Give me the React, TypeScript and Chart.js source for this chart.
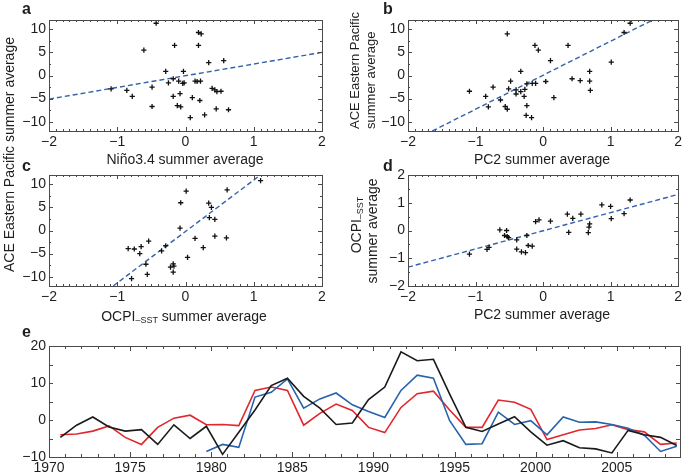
import React, { useEffect, useRef } from "react";
import { Chart, registerables } from "chart.js";

Chart.register(...registerables);

const FONT = "'Liberation Sans', Arial, Helvetica, sans-serif";
const W = 685;
const H = 475;
const YW = 44;
const XH = 20;

// ---------- panel a: Niño3.4 vs ACE ----------
const aNino = [-0.43, 0.19, 0.23, -0.16, 0.19, -0.61, 0.56, 0.34, -0.29, -0.03, -0.18, -0.25, -0.1, -0.04, -0.02, 0.14, 0.17, 0.22, -1.09, -0.86, -0.78, -0.49, 0.39, 0.43, 0.46, 0.52, -0.18, -0.08, 0.1, 0.21, -0.49, -0.12, -0.07, 0.45, 0.63, 0.07, 0.28];
const aAce = [11.3, 9.3, 9.0, 6.5, 6.5, 5.5, 3.2, 2.8, 0.9, 0.9, -0.7, -1.6, -1.2, -1.7, -1.6, -1.2, -1.3, -1.2, -2.9, -3.2, -4.5, -2.5, -2.8, -3.1, -3.5, -3.4, -4.5, -3.9, -4.8, -5.4, -6.7, -6.5, -6.8, -7.2, -7.4, -9.1, -8.5];
const aFitX = [-2, 2];
const aFitY = [-5.1, 5.0];

// ---------- panel b: PC2 vs ACE ----------
const bPc2 = [1.29, 1.2, -0.53, -0.12, -0.07, 0.37, 0.11, 1.01, -0.33, 0.69, -0.48, 0.43, 0.55, 0.69, -0.24, -0.16, -0.11, 0.04, -1.09, -0.74, -0.51, -0.4, -0.33, -0.27, -0.4, 0.7, -0.85, -0.28, 0.16, -0.63, -0.81, -0.56, -0.53, -0.24, -0.25, -0.17];
const bAce = [11.3, 9.3, 9.0, 6.5, 5.5, 6.5, 3.2, 2.9, 0.9, 0.9, -1.2, -0.7, -1.1, -1.2, -1.8, -1.7, -1.7, -1.3, -3.4, -2.5, -2.9, -3.1, -3.5, -3.0, -4.0, -3.2, -4.5, -4.5, -4.8, -5.3, -6.8, -6.7, -7.3, -6.5, -8.6, -9.1];
const bFitX = [-1.64, 1.61];
const bFitY = [-12, 11.9];

// ---------- panel c: OCPI_SST vs ACE ----------
const cOcpi = [1.1, 0.01, 0.61, -0.07, 0.34, 0.38, 0.35, 0.43, -0.08, 0.14, 0.43, 0.6, -0.54, -0.84, -0.75, -0.65, -0.67, -0.29, -0.35, 0.26, 0.03, -0.58, -0.18, -0.17, -0.22, -0.18, -0.56, -0.79];
const cAce = [10.8, 8.5, 8.8, 6.0, 5.9, 5.0, 2.8, 2.4, 0.5, -1.7, -1.2, -1.6, -2.3, -3.9, -4.0, -3.5, -5.0, -3.3, -4.4, -3.7, -5.8, -7.3, -7.2, -7.7, -7.9, -9.0, -9.5, -10.4];
const cFitX = [-1.06, 1.08];
const cFitY = [-12, 11.8];

// ---------- panel d: PC2 vs OCPI_SST ----------
const dPc2 = [1.29, 0.87, 1.0, 1.2, 1.01, 0.36, 0.56, 0.44, -0.11, -0.06, 0.11, 0.69, 0.68, 0.67, 0.38, -0.64, -0.54, -0.57, -0.53, -0.51, -0.24, -0.39, -1.09, -0.83, -0.8, -0.39, -0.32, -0.26, -0.22, -0.16];
const dOcpi = [1.1, 0.92, 0.87, 0.61, 0.43, 0.59, 0.59, 0.44, 0.32, 0.38, 0.34, 0.24, 0.12, -0.08, -0.07, 0.02, 0.0, -0.18, -0.22, -0.26, -0.18, -0.34, -0.85, -0.68, -0.61, -0.67, -0.77, -0.8, -0.54, -0.56];
const dFitX = [-2, 2];
const dFitY = [-1.32, 1.3];

// ---------- panel e: time series (summer mid-points) ----------
const eYears = [1970.7, 1971.7, 1972.7, 1973.7, 1974.7, 1975.7, 1976.7, 1977.7, 1978.7, 1979.7, 1980.7, 1981.7, 1982.7, 1983.7, 1984.7, 1985.7, 1986.7, 1987.7, 1988.7, 1989.7, 1990.7, 1991.7, 1992.7, 1993.7, 1994.7, 1995.7, 1996.7, 1997.7, 1998.7, 1999.7, 2000.7, 2001.7, 2002.7, 2003.7, 2004.7, 2005.7, 2006.7, 2007.7, 2008.7];
const eBlack = [-4.7, -1.4, 0.8, -1.9, -3.0, -2.6, -6.6, -1.3, -5.0, -1.7, -9.3, -3.3, 2.7, 9.3, 11.3, 6.4, 3.2, -1.2, -0.8, 5.5, 8.9, 18.4, 16.0, 16.4, 7.0, -2.0, -3.1, -1.1, 0.9, -3.2, -6.8, -5.6, -7.5, -7.8, -8.9, -2.8, -4.0, -4.7, -6.9];
const eBlue: (number | null)[] = [null, null, null, null, null, null, null, null, null, -8.5, -6.6, -7.4, 6.2, 7.5, 11.1, 3.2, 5.7, 7.3, 4.1, 2.3, 0.7, 8.0, 12.1, 11.3, -0.2, -6.6, -6.4, 2.1, -1.2, -0.2, -4.0, 0.8, -0.6, -0.5, -1.2, -2.2, -4.1, -8.5, -7.1];
const eRed = [-4.0, -3.8, -3.0, -1.6, -4.7, -6.6, -2.0, 0.5, 1.3, -1.3, -1.2, -1.5, 8.0, 8.9, 8.0, -1.4, 1.8, 4.3, 2.6, -2.0, -3.4, 3.4, 7.1, 7.8, 2.7, -2.0, -2.0, 5.4, 4.8, 2.9, -5.3, -4.0, -2.7, -2.3, -1.3, -2.6, -3.2, -6.6, -6.2];

// ---------- helpers ----------
type Run = { t: string; sub?: boolean };
type Label = { runs: Run[]; x: number; y: number; size?: number; bold?: boolean; rotate?: boolean; align?: "left" | "center" };
type Area = { left: number; top: number; right: number; bottom: number };
type TickSpec = { xMajor: number; xMinor: number; yMajor: number; yMinor: number; xMajLen: number; xMinLen: number; yMajLen: number; yMinLen: number };

const fmt = (v: any) => String(v).replace("-", "\u2212");

function textPlugin(items: Label[]) {
  return {
    id: "texts",
    afterDraw(chart: any) {
      const ctx = chart.ctx as CanvasRenderingContext2D;
      for (const it of items) {
        const size = it.size ?? 14;
        const subSize = 9;
        const fontOf = (r: Run) => `${it.bold ? "bold " : ""}${r.sub ? subSize : size}px ${FONT}`;
        ctx.save();
        ctx.fillStyle = "#1e1e1e";
        ctx.textBaseline = "alphabetic";
        ctx.textAlign = "left";
        ctx.translate(it.x, it.y);
        if (it.rotate) ctx.rotate(-Math.PI / 2);
        let total = 0;
        for (const r of it.runs) {
          ctx.font = fontOf(r);
          total += ctx.measureText(r.t).width;
        }
        let cx = it.align === "center" ? -total / 2 : 0;
        for (const r of it.runs) {
          ctx.font = fontOf(r);
          ctx.fillText(r.t, cx, r.sub ? 2 : 0);
          cx += ctx.measureText(r.t).width;
        }
        ctx.restore();
      }
    },
  };
}

function framePlugin(s: TickSpec) {
  return {
    id: "frame",
    afterDatasetsDraw(chart: any) {
      const ctx = chart.ctx as CanvasRenderingContext2D;
      const { left, right, top, bottom } = chart.chartArea;
      const xs = chart.scales.x;
      const ys = chart.scales.y;
      const each = (min: number, max: number, step: number, fn: (v: number) => void) => {
        for (let n = Math.ceil(min / step - 1e-6); n * step <= max + 1e-6; n++) fn(n * step);
      };
      const isMajor = (v: number, m: number) => Math.abs(v / m - Math.round(v / m)) < 1e-6;
      ctx.save();
      ctx.strokeStyle = "#4a4a4a";
      ctx.lineWidth = 1;
      ctx.beginPath();
      each(xs.min, xs.max, s.xMinor, (v) => {
        const len = isMajor(v, s.xMajor) ? s.xMajLen : s.xMinLen;
        const px = Math.round(xs.getPixelForValue(v)) + 0.5;
        ctx.moveTo(px, bottom);
        ctx.lineTo(px, bottom - len);
        ctx.moveTo(px, top);
        ctx.lineTo(px, top + len);
      });
      each(ys.min, ys.max, s.yMinor, (v) => {
        const len = isMajor(v, s.yMajor) ? s.yMajLen : s.yMinLen;
        const py = Math.round(ys.getPixelForValue(v)) + 0.5;
        ctx.moveTo(left, py);
        ctx.lineTo(left + len, py);
        ctx.moveTo(right, py);
        ctx.lineTo(right - len, py);
      });
      ctx.stroke();
      ctx.strokeRect(Math.round(left) + 0.5, Math.round(top) + 0.5, Math.round(right - left), Math.round(bottom - top));
      ctx.restore();
    },
  };
}

function axis(min: number, max: number, step: number, isX: boolean) {
  return {
    type: "linear",
    min,
    max,
    grid: { display: false, drawTicks: false },
    border: { display: false },
    ticks: {
      stepSize: step,
      includeBounds: false,
      padding: 3,
      color: "#1e1e1e",
      font: { size: 14, family: FONT },
      maxRotation: 0,
      autoSkip: false,
      callback: fmt,
    },
    afterFit: (sc: any) => {
      if (isX) sc.height = XH;
      else sc.width = YW;
    },
  };
}

function padding(a: Area) {
  return { left: a.left - YW, top: a.top, right: W - a.right, bottom: H - a.bottom - XH };
}

const pts = (xs: number[], ys: (number | null)[]) =>
  xs.map((x, i) => ({ x, y: ys[i] })).filter((p) => p.y !== null);

function scatterConfig(
  xs: number[], ys: number[], fx: number[], fy: number[],
  yMin: number, yMax: number, yStep: number, yMinor: number,
  area: Area, labels: Label[]
): any {
  return {
    type: "scatter",
    data: {
      datasets: [
        {
          data: pts(xs, ys),
          pointStyle: "cross",
          pointRadius: 2.6,
          pointBorderWidth: 1.3,
          borderColor: "#111",
          backgroundColor: "#111",
          order: 0,
        },
        {
          data: pts(fx, fy),
          showLine: true,
          pointRadius: 0,
          borderColor: "#3562a8",
          borderWidth: 1.4,
          borderDash: [5, 3],
          order: 1,
        },
      ],
    },
    options: {
      animation: false,
      responsive: false,
      events: [],
      layout: { padding: padding(area) },
      plugins: { legend: { display: false }, tooltip: { enabled: false } },
      scales: { x: axis(-2, 2, 1, true), y: axis(yMin, yMax, yStep, false) },
    },
    plugins: [
      framePlugin({ xMajor: 1, xMinor: 0.1, yMajor: yStep, yMinor, xMajLen: 4, xMinLen: 2, yMajLen: 4, yMinLen: 2 }),
      textPlugin(labels),
    ],
  };
}

function configA() {
  return scatterConfig(aNino, aAce, aFitX, aFitY, -12, 12, 5, 2.5,
    { left: 49, top: 20, right: 322, bottom: 131 },
    [
      { runs: [{ t: "a" }], x: 22, y: 13.5, size: 16, bold: true },
      { runs: [{ t: "Niño3.4 summer average" }], x: 185, y: 164, align: "center" },
      { runs: [{ t: "ACE Eastern Pacific summer average" }], x: 14, y: 272, rotate: true },
    ]);
}

function configB() {
  return scatterConfig(bPc2, bAce, bFitX, bFitY, -12, 12, 5, 2.5,
    { left: 408, top: 20, right: 680, bottom: 131 },
    [
      { runs: [{ t: "b" }], x: 383, y: 13.5, size: 16, bold: true },
      { runs: [{ t: "PC2 summer average" }], x: 542, y: 163.5, align: "center" },
      { runs: [{ t: "ACE Eastern Pacific" }], x: 359, y: 129, size: 13, rotate: true },
      { runs: [{ t: "summer average" }], x: 375, y: 129, size: 13, rotate: true },
    ]);
}

function configC() {
  return scatterConfig(cOcpi, cAce, cFitX, cFitY, -12, 12, 5, 2.5,
    { left: 49, top: 175, right: 322, bottom: 286 },
    [
      { runs: [{ t: "c" }], x: 22, y: 170.5, size: 16, bold: true },
      { runs: [{ t: "OCPI" }, { t: "\u2013SST", sub: true }, { t: " summer average" }], x: 184, y: 321, align: "center" },
    ]);
}

function configD() {
  return scatterConfig(dPc2, dOcpi, dFitX, dFitY, -2, 2, 1, 0.5,
    { left: 408, top: 175, right: 680, bottom: 286 },
    [
      { runs: [{ t: "d" }], x: 383, y: 170.5, size: 16, bold: true },
      { runs: [{ t: "PC2 summer average" }], x: 542, y: 319, align: "center" },
      { runs: [{ t: "OCPI" }, { t: "\u2013SST", sub: true }], x: 361, y: 225, rotate: true, align: "center" },
      { runs: [{ t: "summer average" }], x: 377, y: 231, rotate: true, align: "center" },
    ]);
}

function configE(): any {
  const line = (ys: (number | null)[], color: string, order: number) => ({
    data: pts(eYears, ys),
    borderColor: color,
    backgroundColor: color,
    borderWidth: 1.6,
    pointRadius: 0,
    tension: 0,
    order,
  });
  return {
    type: "line",
    data: {
      datasets: [
        line(eBlack, "#1a1a1a", 0),
        line(eBlue, "#2563ad", 1),
        line(eRed, "#e2262c", 2),
      ],
    },
    options: {
      animation: false,
      responsive: false,
      events: [],
      layout: { padding: padding({ left: 49, top: 346, right: 680, bottom: 457 }) },
      plugins: { legend: { display: false }, tooltip: { enabled: false } },
      scales: { x: axis(1970, 2008.9, 5, true), y: axis(-10, 20, 10, false) },
    },
    plugins: [
      framePlugin({ xMajor: 5, xMinor: 1, yMajor: 10, yMinor: 5, xMajLen: 5, xMinLen: 3, yMajLen: 4, yMinLen: 4 }),
      textPlugin([{ runs: [{ t: "e" }], x: 22, y: 337, size: 16, bold: true }]),
    ],
  };
}

const configs = [configA, configB, configC, configD, configE];

export default function App() {
  const refs = useRef<(HTMLCanvasElement | null)[]>([]);
  useEffect(() => {
    const charts = configs.map((cfg, i) => new Chart(refs.current[i] as HTMLCanvasElement, cfg()));
    return () => charts.forEach((c) => c.destroy());
  }, []);
  return (
    <div style={{ position: "absolute", left: 0, top: 0, width: W, height: H, background: "#fff", overflow: "hidden" }}>
      {configs.map((_, i) => (
        <canvas
          key={i}
          ref={(el) => { refs.current[i] = el; }}
          width={W}
          height={H}
          style={{ position: "absolute", left: 0, top: 0, width: W, height: H }}
        />
      ))}
    </div>
  );
}
